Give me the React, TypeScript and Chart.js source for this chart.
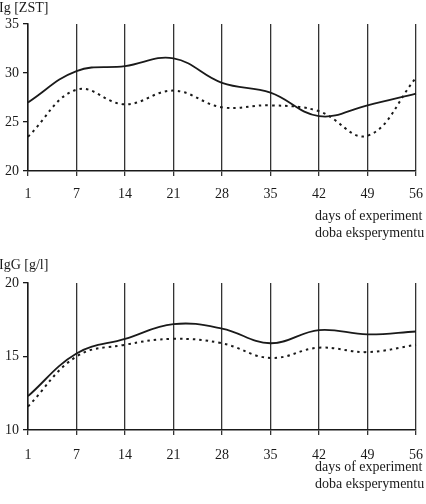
import React, { useEffect, useRef } from 'react';
import { Chart, registerables } from 'chart.js';
Chart.register(...registerables);

const days = ['1', '7', '14', '21', '28', '35', '42', '49', '56'];
const igSolid = [27.0, 30.2, 30.7, 31.5, 29.0, 28.0, 25.6, 26.7, 27.9];
const igDashed = [23.5, 28.3, 26.8, 28.2, 26.5, 26.7, 26.1, 23.6, 29.5];
const iggSolid = [12.3, 15.2, 16.2, 17.2, 16.9, 15.9, 16.8, 16.5, 16.7];
const iggDashed = [11.6, 15.0, 15.8, 16.2, 15.9, 14.9, 15.6, 15.3, 15.8];
const igRange = [20, 35];
const iggRange = [10, 20];
const igTitle = 'Ig [ZST]';
const iggTitle = 'IgG [g/l]';
const xTitle = ['days of experiment', 'doba eksperymentu'];

const FONT = '"Liberation Serif", "Times New Roman", serif';
const INK = '#1a1a1a';

const textPlugin = {
  id: 'texts',
  afterDraw(chart: any, _args: any, opts: any) {
    const ctx = chart.ctx;
    ctx.save();
    ctx.fillStyle = INK;
    ctx.font = `14px ${FONT}`;
    ctx.textBaseline = 'middle';
    ctx.textAlign = 'left';
    ctx.fillText(opts.yTitle, -1, opts.yTitleY);
    const b = chart.chartArea.bottom;
    xTitle.forEach((t: string, i: number) => {
      ctx.fillText(t, 315, b + opts.xTitleDy + i * 17);
    });
    ctx.restore();
  },
};

function makeConfig(
  solid: number[],
  dashed: number[],
  range: number[],
  yTitle: string,
  padTop: number,
  xHeight: number,
  yTitleY: number,
  xTitleDy: number,
  xLabelPad: number
): any {
  return {
    type: 'line',
    data: {
      labels: days,
      datasets: [
        {
          data: solid,
          borderColor: INK,
          borderWidth: 1.8,
          pointRadius: 0,
          tension: 0.4,
          fill: false,
        },
        {
          data: dashed,
          borderColor: INK,
          borderWidth: 2,
          borderDash: [2.5, 4],
          pointRadius: 0,
          tension: 0.4,
          fill: false,
        },
      ],
    },
    options: {
      responsive: false,
      animation: false,
      devicePixelRatio: 1,
      layout: { padding: { top: padTop, right: 10, left: 0, bottom: 0 } },
      plugins: {
        legend: { display: false },
        tooltip: { enabled: false },
        title: { display: false },
        texts: { yTitle, yTitleY, xTitleDy },
      },
      scales: {
        x: {
          type: 'category',
          offset: false,
          afterFit: (s: any) => {
            s.height = xHeight;
            s.paddingLeft = 0;
            s.paddingRight = 0;
          },
          grid: {
            display: true,
            drawOnChartArea: true,
            drawTicks: true,
            tickLength: 5,
            color: '#333',
            lineWidth: 1.3,
          },
          border: { display: true, color: INK, width: 1.5 },
          ticks: {
            color: INK,
            font: { family: FONT, size: 14 },
            padding: xLabelPad,
            maxRotation: 0,
            autoSkip: false,
          },
        },
        y: {
          min: range[0],
          max: range[1],
          afterFit: (s: any) => {
            s.width = 28;
            s.paddingTop = 0;
            s.paddingBottom = 0;
          },
          grid: {
            display: true,
            drawOnChartArea: false,
            drawTicks: true,
            tickLength: 5,
            color: INK,
            lineWidth: 1.3,
          },
          border: { display: true, color: INK, width: 1.5 },
          ticks: {
            stepSize: 5,
            color: INK,
            font: { family: FONT, size: 14 },
            padding: 4,
          },
        },
      },
    },
    plugins: [textPlugin],
  };
}

export default function App() {
  const topRef = useRef<HTMLCanvasElement>(null);
  const botRef = useRef<HTMLCanvasElement>(null);

  useEffect(() => {
    const c1 = new Chart(
      topRef.current as HTMLCanvasElement,
      makeConfig(igSolid, igDashed, igRange, igTitle, 24, 79, 8, 45, 10)
    );
    const c2 = new Chart(
      botRef.current as HTMLCanvasElement,
      makeConfig(iggSolid, iggDashed, iggRange, iggTitle, 33, 74, 15, 37, 12)
    );
    return () => {
      c1.destroy();
      c2.destroy();
    };
  }, []);

  return (
    <div
      style={{
        position: 'fixed',
        left: 0,
        top: 0,
        width: 426,
        height: 504,
        background: '#fff',
      }}
    >
      <canvas
        ref={topRef}
        width={426}
        height={250}
        style={{ position: 'absolute', left: 0, top: 0, width: 426, height: 250 }}
      />
      <canvas
        ref={botRef}
        width={426}
        height={254}
        style={{ position: 'absolute', left: 0, top: 250, width: 426, height: 254 }}
      />
    </div>
  );
}
